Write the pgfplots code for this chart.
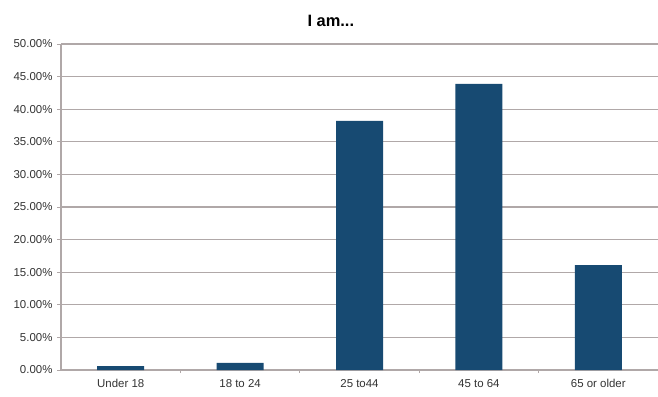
\documentclass[border=0pt]{standalone}
\usepackage{pgfplots}
\pgfplotsset{compat=1.18}
\usepackage{fontspec}
\setmainfont{Liberation Sans}
\definecolor{barblue}{HTML}{174A72}
\definecolor{gridc}{HTML}{B0A8A8}
\begin{document}
\begin{tikzpicture}[x=1bp,y=1bp]
\path[use as bounding box] (0,0) rectangle (658,396);
\begin{axis}[
  at={(61bp,26bp)}, anchor=south west,
  scale only axis, width=597bp, height=326bp,
  ymin=0, ymax=50, xmin=-0.5, xmax=4.5,
  ytick={0,5,...,50},
  yticklabel={\pgfmathprintnumber[fixed,fixed zerofill,precision=2]{\tick}\%},
  /pgf/number format/assume math mode=true,
  xtick={0,1,2,3,4},
  xticklabels={Under 18,18 to 24,25 to44,45 to 64,65 or older},
  minor xtick={0.5,1.5,2.5,3.5},
  major x tick style={draw=none},
  minor x tick style={draw=gridc, line width=0.8pt},
  minor tick length=3bp,
  tick align=outside,
  ymajorgrids, grid style={draw=gridc, line width=1.1pt},
  axis x line*=bottom, axis y line*=left,
  axis line style={draw=gridc, line width=1.3pt, -},
  y tick style={draw=gridc, line width=1pt}, major tick length=4bp,
  tick label style={font=\fontsize{11.5}{13}\selectfont, text=black!80},
  yticklabel style={xshift=-1bp},
  xticklabel style={yshift=-2bp},
  ybar, bar width=47bp,
  title={\fontsize{16.5}{19}\selectfont\bfseries I am...},
  title style={at={(0.452,1)}, yshift=8bp},
]
\addplot[fill=barblue, draw=none] coordinates {(0,0.6) (1,1.1) (2,38.2) (3,43.9) (4,16.1)};
\end{axis}
\end{tikzpicture}
\end{document}
